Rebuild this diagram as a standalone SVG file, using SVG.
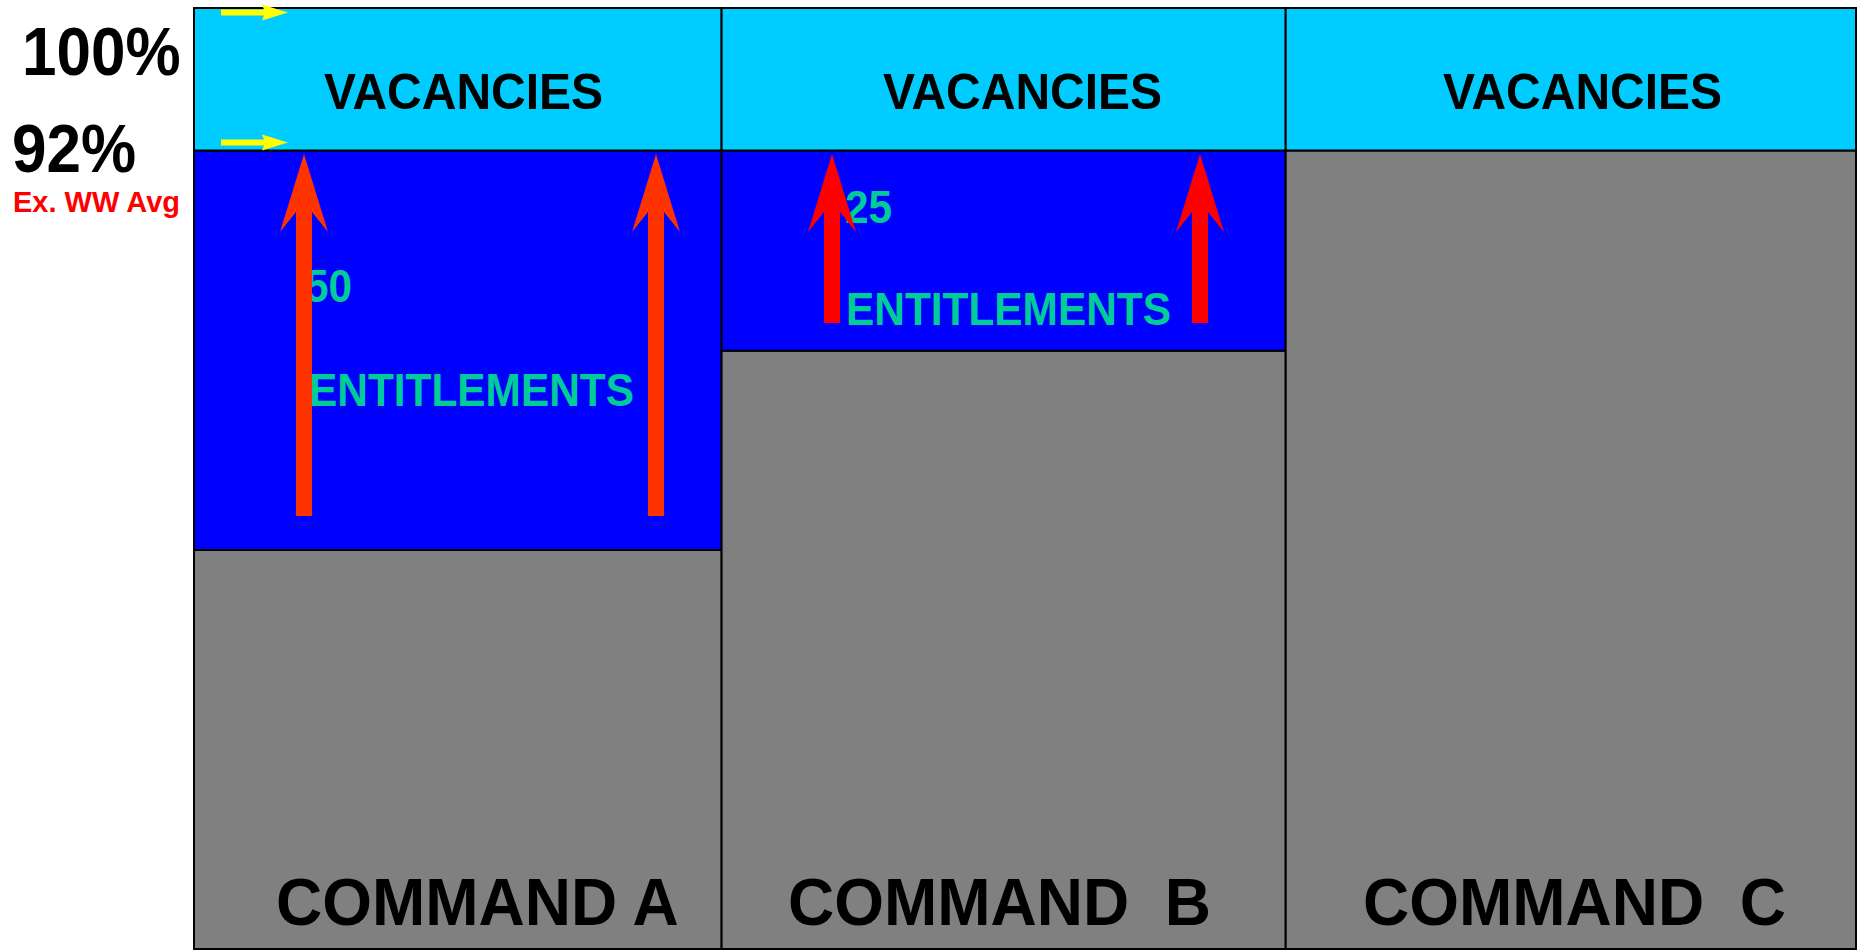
<svg xmlns="http://www.w3.org/2000/svg" width="1858" height="950" viewBox="0 0 1858 950">
<style>
.lbl{font-family:"Liberation Sans",Arial,sans-serif;font-weight:bold;}
.vac{font-size:48px;fill:#000;}
.ent{font-size:42.4px;fill:#00CC99;}
.cmd{font-size:64px;fill:#000;}
.pct{font-size:62px;fill:#000;}
.cyan{fill:#00CCFF;stroke:#000;stroke-width:2;}
.blue{fill:#0000FF;stroke:#000;stroke-width:2;}
.grey{fill:#808080;stroke:#000;stroke-width:2;}
.ya{fill:#FFFF00;}
.ra{fill:#FF3300;}
.rb{fill:#FF0000;}
</style>
<rect width="1858" height="950" fill="#fff"/>
<g id="legend">
  <text class="lbl pct" transform="translate(22,75) scale(1,1.1)">100%</text>
  <text class="lbl pct" transform="translate(12,172) scale(1,1.1)">92%</text>
  <text class="lbl" x="13" y="212" font-size="29" fill="#FF0000">Ex. WW Avg</text>
</g>
<g id="command-a">
  <rect class="grey" x="194" y="550" width="527.6" height="399"/>
  <rect class="blue" x="194" y="150.5" width="527.6" height="399.5"/>
  <rect class="cyan" x="194" y="8" width="527.6" height="142.5"/>
  <text class="lbl vac" transform="translate(324,109) scale(1,1.05)">VACANCIES</text>
  <text class="lbl ent" transform="translate(305,302) scale(1,1.07)">50</text>
  <text class="lbl ent" transform="translate(309,406) scale(1,1.07)">ENTITLEMENTS</text>
  <text class="lbl cmd" transform="translate(276,925) scale(1,1.03)">COMMAND A</text>
</g>
<g id="command-b">
  <rect class="grey" x="721.6" y="350.7" width="564.1" height="598.3"/>
  <rect class="blue" x="721.6" y="150.5" width="564.1" height="200.2"/>
  <rect class="cyan" x="721.6" y="8" width="564.1" height="142.5"/>
  <text class="lbl vac" transform="translate(883,109) scale(1,1.05)">VACANCIES</text>
  <text class="lbl ent" transform="translate(845,223) scale(1,1.07)">25</text>
  <text class="lbl ent" transform="translate(846,325) scale(1,1.07)">ENTITLEMENTS</text>
  <text class="lbl cmd" xml:space="preserve" transform="translate(788,925) scale(1,1.03)">COMMAND  B</text>
</g>
<g id="command-c">
  <rect class="grey" x="1285.7" y="150.5" width="570.3" height="798.5"/>
  <rect class="cyan" x="1285.7" y="8" width="570.3" height="142.5"/>
  <text class="lbl vac" transform="translate(1443,109) scale(1,1.05)">VACANCIES</text>
  <text class="lbl cmd" xml:space="preserve" transform="translate(1363,925) scale(1,1.03)">COMMAND  C</text>
</g>
<g id="connectors">
  <polygon class="ya" points="221,9.5 264,9.5 262,4.5 288,12.5 262,20.5 264,15.5 221,15.5"/>
  <polygon class="ya" points="221,139.5 264,139.5 262,134.5 288,142.5 262,150.5 264,145.5 221,145.5"/>
  <polygon class="ra" points="304,154 328,232 312,212 312,516 296,516 296,212 280,232"/>
  <polygon class="ra" points="656,154 680,232 664,212 664,516 648,516 648,212 632,232"/>
  <polygon class="rb" points="832,154 856,232 840,212 840,323 824,323 824,212 808,232"/>
  <polygon class="rb" points="1200,154 1224,232 1208,212 1208,323 1192,323 1192,212 1176,232"/>
</g>
</svg>
